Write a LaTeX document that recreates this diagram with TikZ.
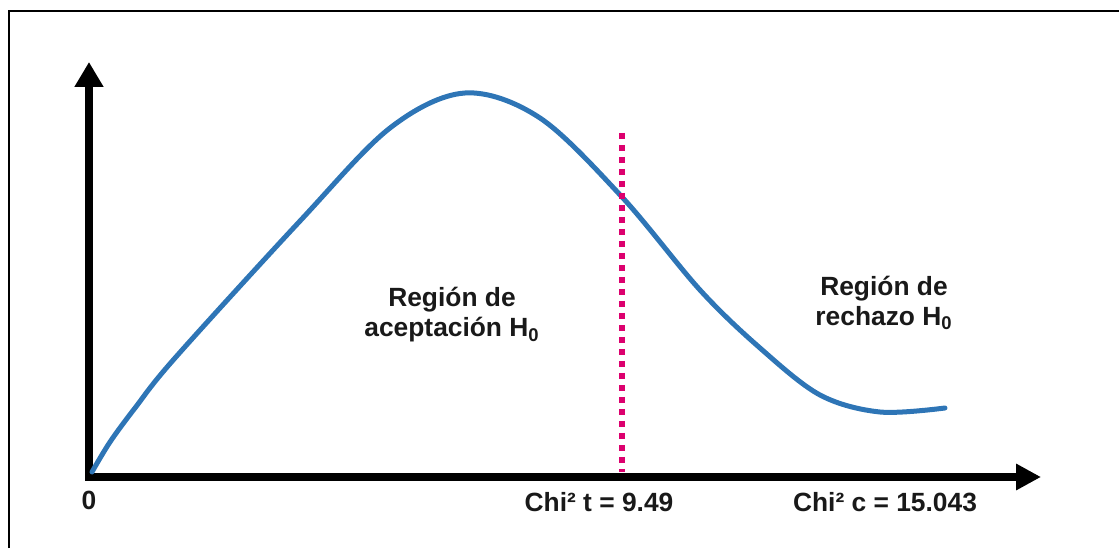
\documentclass[tikz,border=0pt]{standalone}
\usepackage{fontspec}
\setmainfont{Liberation Sans}
\usetikzlibrary{arrows.meta}
\definecolor{curveblue}{RGB}{46,117,182}
\definecolor{critpink}{RGB}{220,0,110}
\begin{document}
\begin{tikzpicture}[x=0.02cm,y=0.02cm,
    axis/.style={line width=0.16cm,{Triangle[length=0.5cm,width=0.55cm]}-{Triangle[length=0.5cm,width=0.5cm]}},
    lbl/.style={font=\fontsize{15}{17}\selectfont\bfseries, text=black!90, inner sep=0pt},
    region/.style={lbl, align=center}]
    \useasboundingbox (0,0) rectangle (1119,548);
    % frame
    \draw[line width=0.055cm] (9,0) -- (9,537) -- (1119,537);
    % axes
    \coordinate (o) at (89,71);
    \coordinate (ytop) at (89,486);
    \coordinate (xend) at (1041,71);
    \draw[axis] (ytop) -- (o) -- (xend);
    % chi square curve
    \draw[curveblue, line width=0.1cm, line cap=round] plot[smooth, tension=0.55] coordinates
      {(92,76) (110,106) (135,140) (175,190) (300,327) (390,420) (465,455) (540,430) (622,351) (700,258) (760,200) (820,153) (880,136) (945,140)};
    % critical value
    \coordinate (cttop) at (622,415);
    \coordinate (ct) at (622,76);
    \draw[critpink, line width=0.12cm, dash pattern=on 0.12cm off 0.12cm] (cttop) -- (ct);
    % labels
    \node[lbl] (zero) at (89,48) {0};
    \node[lbl] (chit) at (599,46) {Chi² t = 9.49};
    \node[lbl] (chic) at (885,46) {Chi² c = 15.043};
    \node[region] (acept) at (452,233) {Región de\\aceptación H\textsubscript{0}};
    \node[region] (rech) at (884,245) {Región de\\rechazo H\textsubscript{0}};
  \end{tikzpicture}
\end{document}
